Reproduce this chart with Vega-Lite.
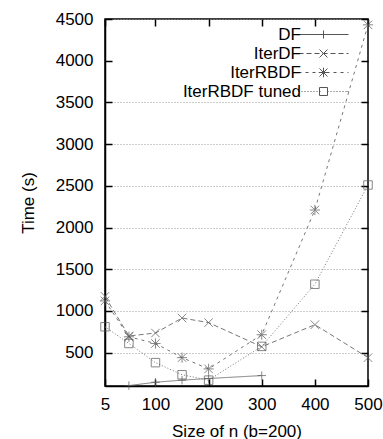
{
  "$schema": "https://vega.github.io/schema/vega-lite/v6.json",
  "width": 263,
  "height": 367,
  "autosize": {"type": "none"},
  "padding": {"left": 105, "top": 19, "right": 15, "bottom": 53},
  "background": "white",
  "config": {
    "view": {"stroke": "black", "strokeWidth": 1.5},
    "font": "Liberation Sans",
    "axis": {
      "labelFont": "Liberation Sans",
      "labelFontSize": 17,
      "labelColor": "black",
      "titleFont": "Liberation Sans",
      "titleFontSize": 17,
      "titleFontWeight": "normal",
      "titleColor": "black",
      "tickColor": "black",
      "tickWidth": 1.5,
      "tickSize": -7,
      "domainColor": "black",
      "domainWidth": 1.5,
      "gridColor": "#999999",
      "gridDash": [1, 2],
      "gridWidth": 1,
      "labelFlush": false,
      "format": "d"
    }
  },
  "data": {
    "values": [
      {"series": "DF", "n": 50, "time": 105},
      {"series": "DF", "n": 100, "time": 145},
      {"series": "DF", "n": 150, "time": 170},
      {"series": "DF", "n": 200, "time": 190},
      {"series": "DF", "n": 300, "time": 225},
      {"series": "IterDF", "n": 5, "time": 1175},
      {"series": "IterDF", "n": 50, "time": 700},
      {"series": "IterDF", "n": 100, "time": 735},
      {"series": "IterDF", "n": 150, "time": 915},
      {"series": "IterDF", "n": 200, "time": 860},
      {"series": "IterDF", "n": 300, "time": 570},
      {"series": "IterDF", "n": 400, "time": 835},
      {"series": "IterDF", "n": 500, "time": 440},
      {"series": "IterRBDF", "n": 5, "time": 1120},
      {"series": "IterRBDF", "n": 50, "time": 690},
      {"series": "IterRBDF", "n": 100, "time": 610},
      {"series": "IterRBDF", "n": 150, "time": 440},
      {"series": "IterRBDF", "n": 200, "time": 305},
      {"series": "IterRBDF", "n": 300, "time": 715},
      {"series": "IterRBDF", "n": 400, "time": 2210},
      {"series": "IterRBDF", "n": 500, "time": 4430},
      {"series": "IterRBDF tuned", "n": 5, "time": 810},
      {"series": "IterRBDF tuned", "n": 50, "time": 610},
      {"series": "IterRBDF tuned", "n": 100, "time": 380},
      {"series": "IterRBDF tuned", "n": 150, "time": 235},
      {"series": "IterRBDF tuned", "n": 200, "time": 170},
      {"series": "IterRBDF tuned", "n": 300, "time": 575},
      {"series": "IterRBDF tuned", "n": 400, "time": 1320},
      {"series": "IterRBDF tuned", "n": 500, "time": 2510}
    ]
  },
  "layer": [
    {
      "mark": {"type": "point", "opacity": 0, "filled": false},
      "encoding": {
        "x": {
          "field": "n", "type": "quantitative",
          "scale": {"domain": [5, 500], "nice": false, "zero": false},
          "axis": null
        },
        "y": {
          "field": "time", "type": "quantitative",
          "scale": {"domain": [100, 4500], "nice": false, "zero": false},
          "axis": {"orient": "left", "values": [500, 1000, 1500, 2000, 2500, 3000, 3500, 4500], "grid": true, "labels": false, "ticks": false, "domain": false, "title": null}
        },
        "shape": {
          "field": "series", "type": "nominal",
          "scale": {
            "domain": ["DF", "IterDF", "IterRBDF", "IterRBDF tuned"],
            "range": [
              "M-6.25,0H6.25M0,-1V1M8.75,0",
              "M-6.25,0H-5M-4.25,0H-3M-2.25,0H-1M-0.25,0H1M1.75,0H3M3.75,0H5M5.75,0H6.25M-1,-1L1,1M-1,1L1,-1M8.75,0",
              "M-6.25,0H-5.5M-4.5,0H-3.75M-2.75,0H-2M-1,0H-0.25M0.75,0H1.5M2.5,0H3.25M4.25,0H5M6,0H6.25M-1,-1L1,1M-1,1L1,-1M0,-1.2V1.2M-1.2,0H1.2M8.75,0",
              "M-6.25,0H-6M-5.5,0H-5.25M-4.75,0H-4.5M-4,0H-3.75M-3.25,0H-3M-2.5,0H-2.25M-1.75,0H-1.5M-1,0H-0.75M1,0H1.25M1.75,0H2M2.5,0H2.75M3.25,0H3.5M4,0H4.25M4.75,0H5M5.5,0H5.75M6,0H6.25M-1,-1H1V1H-1ZM8.75,0"
            ]
          },
          "legend": {
            "orient": "top-right",
            "offset": 4,
            "padding": 3,
            "title": null,
            "labelFont": "Liberation Sans",
            "labelFontSize": 17,
            "labelColor": "black",
            "labelAlign": "right",
            "labelOffset": -31,
            "symbolSize": 64,
            "symbolOpacity": 1,
            "symbolStrokeColor": "#555555",
            "symbolFillColor": "transparent",
            "symbolStrokeWidth": 1,
            "rowPadding": 1
          }
        }
      }
    },
    {
      "mark": {"type": "line", "strokeWidth": 1, "color": "#777777"},
      "encoding": {
        "x": {
          "field": "n", "type": "quantitative",
          "axis": {"orient": "bottom", "values": [5, 100, 200, 300, 400, 500], "grid": false, "title": "Size of n (b=200)", "labelPadding": 17, "titlePadding": 11}
        },
        "y": {
          "field": "time", "type": "quantitative",
          "axis": {"orient": "left", "values": [500, 1000, 1500, 2000, 2500, 3000, 3500, 4000, 4500], "grid": false, "title": "Time (s)", "labelPadding": 19, "titlePadding": 18}
        },
        "strokeDash": {
          "field": "series", "type": "nominal",
          "scale": {"range": [[1, 0], [5, 3], [3, 4], [1, 2]]},
          "legend": null
        }
      }
    },
    {
      "mark": {"type": "point", "filled": false, "strokeWidth": 1, "color": "#555555", "size": 72},
      "encoding": {
        "x": {
          "field": "n", "type": "quantitative",
          "axis": {"orient": "top", "values": [5, 100, 200, 300, 400, 500], "labels": false, "domain": false, "grid": false, "title": null}
        },
        "y": {
          "field": "time", "type": "quantitative",
          "axis": {"orient": "right", "values": [500, 1000, 1500, 2000, 2500, 3000, 3500, 4000, 4500], "labels": false, "domain": false, "grid": false, "title": null}
        },
        "shape": {
          "field": "series", "type": "nominal",
          "scale": {
            "range": ["M0,-1V1M-1,0H1", "M-1,-1L1,1M-1,1L1,-1", "M-1,-1L1,1M-1,1L1,-1M0,-1.2V1.2M-1.2,0H1.2", "M-1,-1H1V1H-1Z"]
          },
          "legend": null
        }
      }
    }
  ],
  "resolve": {
    "axis": {"x": "independent", "y": "independent"},
    "scale": {"shape": "independent"}
  }
}
